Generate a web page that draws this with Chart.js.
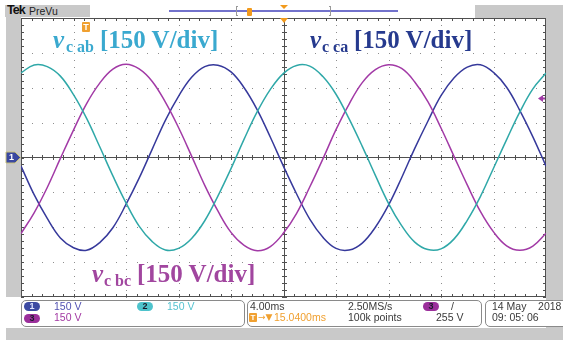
<!DOCTYPE html>
<html>
<head>
<meta charset="utf-8">
<title>Tek PreVu</title>
<script src="https://cdn.jsdelivr.net/npm/chart.js@4/dist/chart.umd.min.js"></script>
<style>
  html, body { margin: 0; padding: 0; background: #fff; }
  #screen { position: relative; width: 563px; height: 340px; overflow: hidden;
            font-family: "Liberation Sans", Arial, sans-serif; }
  .grey { position: absolute; background: #c9c9c9; }
  #scope { position: absolute; left: 0; top: 0; }
  .abs { position: absolute; white-space: nowrap; }
  .box { position: absolute; background: #fff; border: 1px solid #8a8a8a; border-radius: 5px; box-sizing: border-box; }
  .row { position: absolute; white-space: nowrap; font-size: 10.5px; line-height: 11px; color: #3a3a3a; }
  .pill { position: absolute; width: 16px; height: 9px; border-radius: 5px; font: bold 9px/9px "Liberation Sans", Arial, sans-serif;
          text-align: center; color: #1a1a2a; }
  .ann { position: absolute; white-space: nowrap; font-family: "Liberation Serif", "Times New Roman", serif; line-height: 25px; }
  .ann .v { font-style: italic; font-weight: bold; font-size: 25px; }
  .ann .sub { font-weight: bold; font-size: 16px; }
  .ann .unit { font-weight: bold; font-size: 25px; }
</style>
</head>
<body>
<div id="screen">
  <!-- bezel -->
  <div class="grey" style="left:5px;top:5px;width:85px;height:12px"></div>
  <div class="grey" style="left:475px;top:5px;width:88px;height:13px"></div>
  <div class="grey" style="left:6px;top:5px;width:15px;height:292px"></div>
  <div class="grey" style="left:546px;top:5px;width:17px;height:335px"></div>
  <div class="grey" style="left:6px;top:328px;width:557px;height:12px"></div>

  <!-- record bar -->
  <div class="abs" style="left:7px;top:4px;font:bold 12.5px/13px 'Liberation Sans',Arial,sans-serif;letter-spacing:-1px;color:#111">Tek</div>
  <div class="abs" style="left:29px;top:5px;font:10.5px/12px 'Liberation Sans',Arial,sans-serif;color:#222">PreVu</div>
  <div class="abs" style="left:169px;top:10px;width:229px;height:2px;background:#7272cc"></div>
  <div class="abs" style="left:236px;top:6px;width:2px;height:10px;border:1px solid #999;border-right:none;box-sizing:border-box"></div>
  <div class="abs" style="left:329px;top:6px;width:2px;height:10px;border:1px solid #999;border-left:none;box-sizing:border-box"></div>
  <div class="abs" style="left:247px;top:8px;width:5px;height:8px;background:#f29a1c;border-radius:1px"></div>

  <canvas id="scope" width="563" height="340"></canvas>

  <!-- trace annotations -->
  <div class="ann" style="left:53px;top:27px;color:#3aa9cf"><span class="v">v</span></div>
  <div class="ann" style="left:66px;top:34px;color:#3aa9cf"><span class="sub">c ab</span></div>
  <div class="ann" style="left:100px;top:27px;color:#3aa9cf"><span class="unit">[150 V/div]</span></div>

  <div class="ann" style="left:310px;top:27px;color:#263a8e"><span class="v">v</span></div>
  <div class="ann" style="left:322px;top:34px;color:#263a8e"><span class="sub">c ca</span></div>
  <div class="ann" style="left:354px;top:27px;color:#263a8e"><span class="unit">[150 V/div]</span></div>

  <div class="ann" style="left:92px;top:261px;color:#a1469f"><span class="v">v</span></div>
  <div class="ann" style="left:104px;top:268px;color:#a1469f"><span class="sub">c bc</span></div>
  <div class="ann" style="left:137px;top:261px;color:#a1469f"><span class="unit">[150 V/div]</span></div>

  <!-- markers placed from the scales after the chart is built -->
  <div id="gndLabel" class="abs" style="left:9px;top:152px;font:bold 9px/10px 'Liberation Sans',Arial,sans-serif;color:#fff">1</div>
  <div id="trigIcon" class="abs" style="left:83px;top:22px;width:8px;height:10px;background:#f0a030;border-radius:1px;color:#fff;font:bold 9px/10px 'Liberation Sans',Arial,sans-serif;text-align:center">T</div>

  <!-- status readout -->
  <div class="box" style="left:21px;top:300px;width:224px;height:27px"></div>
  <div class="box" style="left:247px;top:300px;width:235px;height:27px"></div>
  <div class="box" style="left:485px;top:300px;width:90px;height:27px"></div>

  <div class="pill" style="left:24px;top:302px;background:#3c4aa2;color:#dfe4ff">1</div>
  <div class="row" style="left:54px;top:301px;color:#5252b2">150 V</div>
  <div class="pill" style="left:137px;top:302px;background:#4ec3cc">2</div>
  <div class="row" style="left:167px;top:301px;color:#55c3d0">150 V</div>
  <div class="pill" style="left:24px;top:314px;background:#9b2f9b">3</div>
  <div class="row" style="left:54px;top:312px;color:#a33aa3">150 V</div>

  <div class="row" style="left:250px;top:301px">4.00ms</div>
  <div class="row" style="left:348px;top:301px">2.50MS/s</div>
  <div class="pill" style="left:423px;top:302px;background:#9b2f9b">3</div>
  <div class="row" style="left:451px;top:301px">/</div>
  <div class="abs" style="left:249px;top:313px;width:8px;height:9px;background:#f0a030;border-radius:1px;color:#fff;font:bold 8px/9px 'Liberation Sans',Arial,sans-serif;text-align:center">T</div>
  <div class="row" style="left:258px;top:312px;color:#f0a030;font-family:'DejaVu Sans',sans-serif;font-size:9px">→▼</div>
  <div class="row" style="left:274px;top:312px;color:#f0a030">15.0400ms</div>
  <div class="row" style="left:348px;top:312px">100k points</div>
  <div class="row" style="left:436px;top:312px">255 V</div>

  <div class="row" style="left:492px;top:301px">14 May&nbsp;&nbsp;&nbsp;&nbsp;2018</div>
  <div class="row" style="left:492px;top:312px">09: 05: 06</div>
</div>

<script>
// time base: 4 ms/div over 10 divisions, 150 V/div over 8 divisions
const timeMs = [0, 1, 2, 3, 4, 5, 6, 7, 8, 9, 10, 11, 12, 13, 14, 15, 16, 17, 18, 19, 20,
                21, 22, 23, 24, 25, 26, 27, 28, 29, 30, 31, 32, 33, 34, 35, 36, 37, 38, 39, 40];

// ch2 (teal)
const vcAb = [364, 398, 391, 350, 270, 168, 46, -79, -195, -295, -362, -398, -391, -348, -272, -166, -48, 79, 197, 293,
              362, 396, 393, 348, 272, 166, 48, -77, -197, -293, -364, -396, -393, -350, -270, -168, -46, 77, 195, 295, 363];
// ch3 (purple)
const vcBc = [-327, -238, -129, -4, 118, 232, 320, 380, 401, 381, 327, 238, 129, 6, -120, -230, -322, -378, -401, -383,
              -325, -240, -127, -6, 120, 230, 322, 378, 399, 383, 325, 240, 127, 4, -118, -232, -320, -380, -399, -381, -326];
// ch1 (blue)
const vcCa = [-37, -160, -262, -346, -388, -399, -366, -302, -202, -89, 36, 160, 263, 345, 391, 397, 368, 300, 205, 87,
              -38, -157, -265, -343, -391, -398, -368, -300, -205, -87, 39, 156, 266, 343, 389, 399, 366, 302, 203, 89, -37];

const xDivs = [0, 4, 8, 12, 16, 20, 24, 28, 32, 36, 40];
const yDivs = [-600, -450, -300, -150, 0, 150, 300, 450, 600];

const triggerLevel = 255;      // V, ch3 rising
const triggerTime = 20 - 15.04; // ms from left edge of the record window

// dotted graticule, centre axes and frame
const graticule = {
  id: 'graticule',
  beforeDatasetsDraw(chart) {
    const { ctx, chartArea: a, scales: { x, y } } = chart;
    const xMinor = [], yMinor = [];
    for (let i = 0; i < xDivs.length - 1; i++) {
      for (let k = 0; k < 5; k++) xMinor.push(Math.round(x.getPixelForValue(xDivs[i] + (xDivs[i + 1] - xDivs[i]) * k / 5)));
    }
    for (let j = 0; j < yDivs.length - 1; j++) {
      for (let k = 0; k < 5; k++) yMinor.push(Math.round(y.getPixelForValue(yDivs[j] + (yDivs[j + 1] - yDivs[j]) * k / 5)));
    }
    const cx = Math.round(x.getPixelForValue(20));
    const cy = Math.floor(y.getPixelForValue(0));
    const L = Math.round(a.left), R = Math.round(a.right) - 1;
    const T = Math.round(a.top), B = Math.round(a.bottom) - 1;

    ctx.save();
    ctx.fillStyle = '#8e8e8e';
    xDivs.slice(1, -1).forEach(t => {
      if (t === 20) return;
      const px = Math.round(x.getPixelForValue(t));
      yMinor.forEach(py => { if (py > T + 1) ctx.fillRect(px, py, 1, 1); });
    });
    yDivs.slice(1, -1).forEach(v => {
      if (v === 0) return;
      const py = Math.round(y.getPixelForValue(v));
      xMinor.forEach(px => { if (px > L + 1) ctx.fillRect(px, py, 1, 1); });
    });

    ctx.fillStyle = '#505050';
    ctx.fillRect(L, cy, R - L + 1, 1);
    ctx.fillRect(cx, T, 1, B - T + 1);
    xMinor.forEach(px => ctx.fillRect(px, cy - 2, 1, 5));
    yMinor.forEach(py => ctx.fillRect(cx - 2, py, 5, 1));

    // frame with inward ticks
    ctx.fillRect(L, T, R - L + 1, 1);
    ctx.fillRect(L, B, R - L + 1, 1);
    ctx.fillRect(L, T, 1, B - T + 1);
    ctx.fillRect(R, T, 1, B - T + 1);
    xMinor.forEach(px => { ctx.fillRect(px, T, 1, 3); ctx.fillRect(px, B - 2, 1, 3); });
    yMinor.forEach(py => { ctx.fillRect(L, py, 3, 1); ctx.fillRect(R - 2, py, 3, 1); });
    ctx.restore();
  },
  afterDraw(chart) {
    const { ctx, chartArea: a, scales: { x, y } } = chart;
    const cx = x.getPixelForValue(20) + 0.5;
    const gy = Math.floor(y.getPixelForValue(0)) + 0.5;
    const ty = Math.round(y.getPixelForValue(triggerLevel)) + 0.5;
    ctx.save();
    // trigger position markers
    ctx.fillStyle = '#f29a1c';
    ctx.beginPath();
    ctx.moveTo(cx - 4, a.top); ctx.lineTo(cx + 4, a.top); ctx.lineTo(cx, a.top + 5); ctx.closePath();
    ctx.fill();
    ctx.beginPath();
    ctx.moveTo(cx - 4, 5); ctx.lineTo(cx + 4, 5); ctx.lineTo(cx, 9); ctx.closePath();
    ctx.fill();
    // trigger level arrow
    ctx.fillStyle = '#a13aa6';
    ctx.beginPath();
    ctx.moveTo(a.right - 8, ty); ctx.lineTo(a.right - 3, ty - 3.5); ctx.lineTo(a.right - 3, ty + 3.5); ctx.closePath();
    ctx.fill();
    ctx.fillRect(a.right - 4, ty - 1, 3, 2);
    // ch1 ground marker
    ctx.fillStyle = '#3a48a0';
    ctx.strokeStyle = '#c9c27a';
    ctx.lineWidth = 1;
    ctx.beginPath();
    ctx.moveTo(6, gy - 5.5); ctx.lineTo(15, gy - 5.5); ctx.lineTo(20.5, gy); ctx.lineTo(15, gy + 5.5); ctx.lineTo(6, gy + 5.5);
    ctx.closePath();
    ctx.fill();
    ctx.stroke();
    ctx.restore();
  }
};

function series(values) {
  return timeMs.map((t, i) => ({ x: t, y: values[i] }));
}

const chart = new Chart(document.getElementById('scope'), {
  type: 'line',
  data: {
    datasets: [
      { label: 'vc ab', data: series(vcAb), borderColor: '#2fa8a8' },
      { label: 'vc bc', data: series(vcBc), borderColor: '#a23aa6' },
      { label: 'vc ca', data: series(vcCa), borderColor: '#36399b' }
    ]
  },
  options: {
    responsive: false,
    animation: false,
    devicePixelRatio: 1,
    layout: { padding: { left: 21, top: 18, right: 17, bottom: 43 } },
    elements: {
      point: { radius: 0 },
      line: { borderWidth: 1.5, tension: 0.4, fill: false }
    },
    datasets: { line: { clip: 0 } },
    plugins: { legend: { display: false }, tooltip: { enabled: false } },
    scales: {
      x: { type: 'linear', min: xDivs[0], max: xDivs[xDivs.length - 1], display: false },
      y: { type: 'linear', min: yDivs[0], max: yDivs[yDivs.length - 1], display: false }
    }
  },
  plugins: [graticule]
});

// place the trigger icon and ground label from the scales
const icon = document.getElementById('trigIcon');
icon.style.left = Math.round(chart.scales.x.getPixelForValue(triggerTime)) - 4 + 'px';
const gnd = document.getElementById('gndLabel');
gnd.style.top = Math.floor(chart.scales.y.getPixelForValue(0)) - 5 + 'px';
</script>
</body>
</html>
